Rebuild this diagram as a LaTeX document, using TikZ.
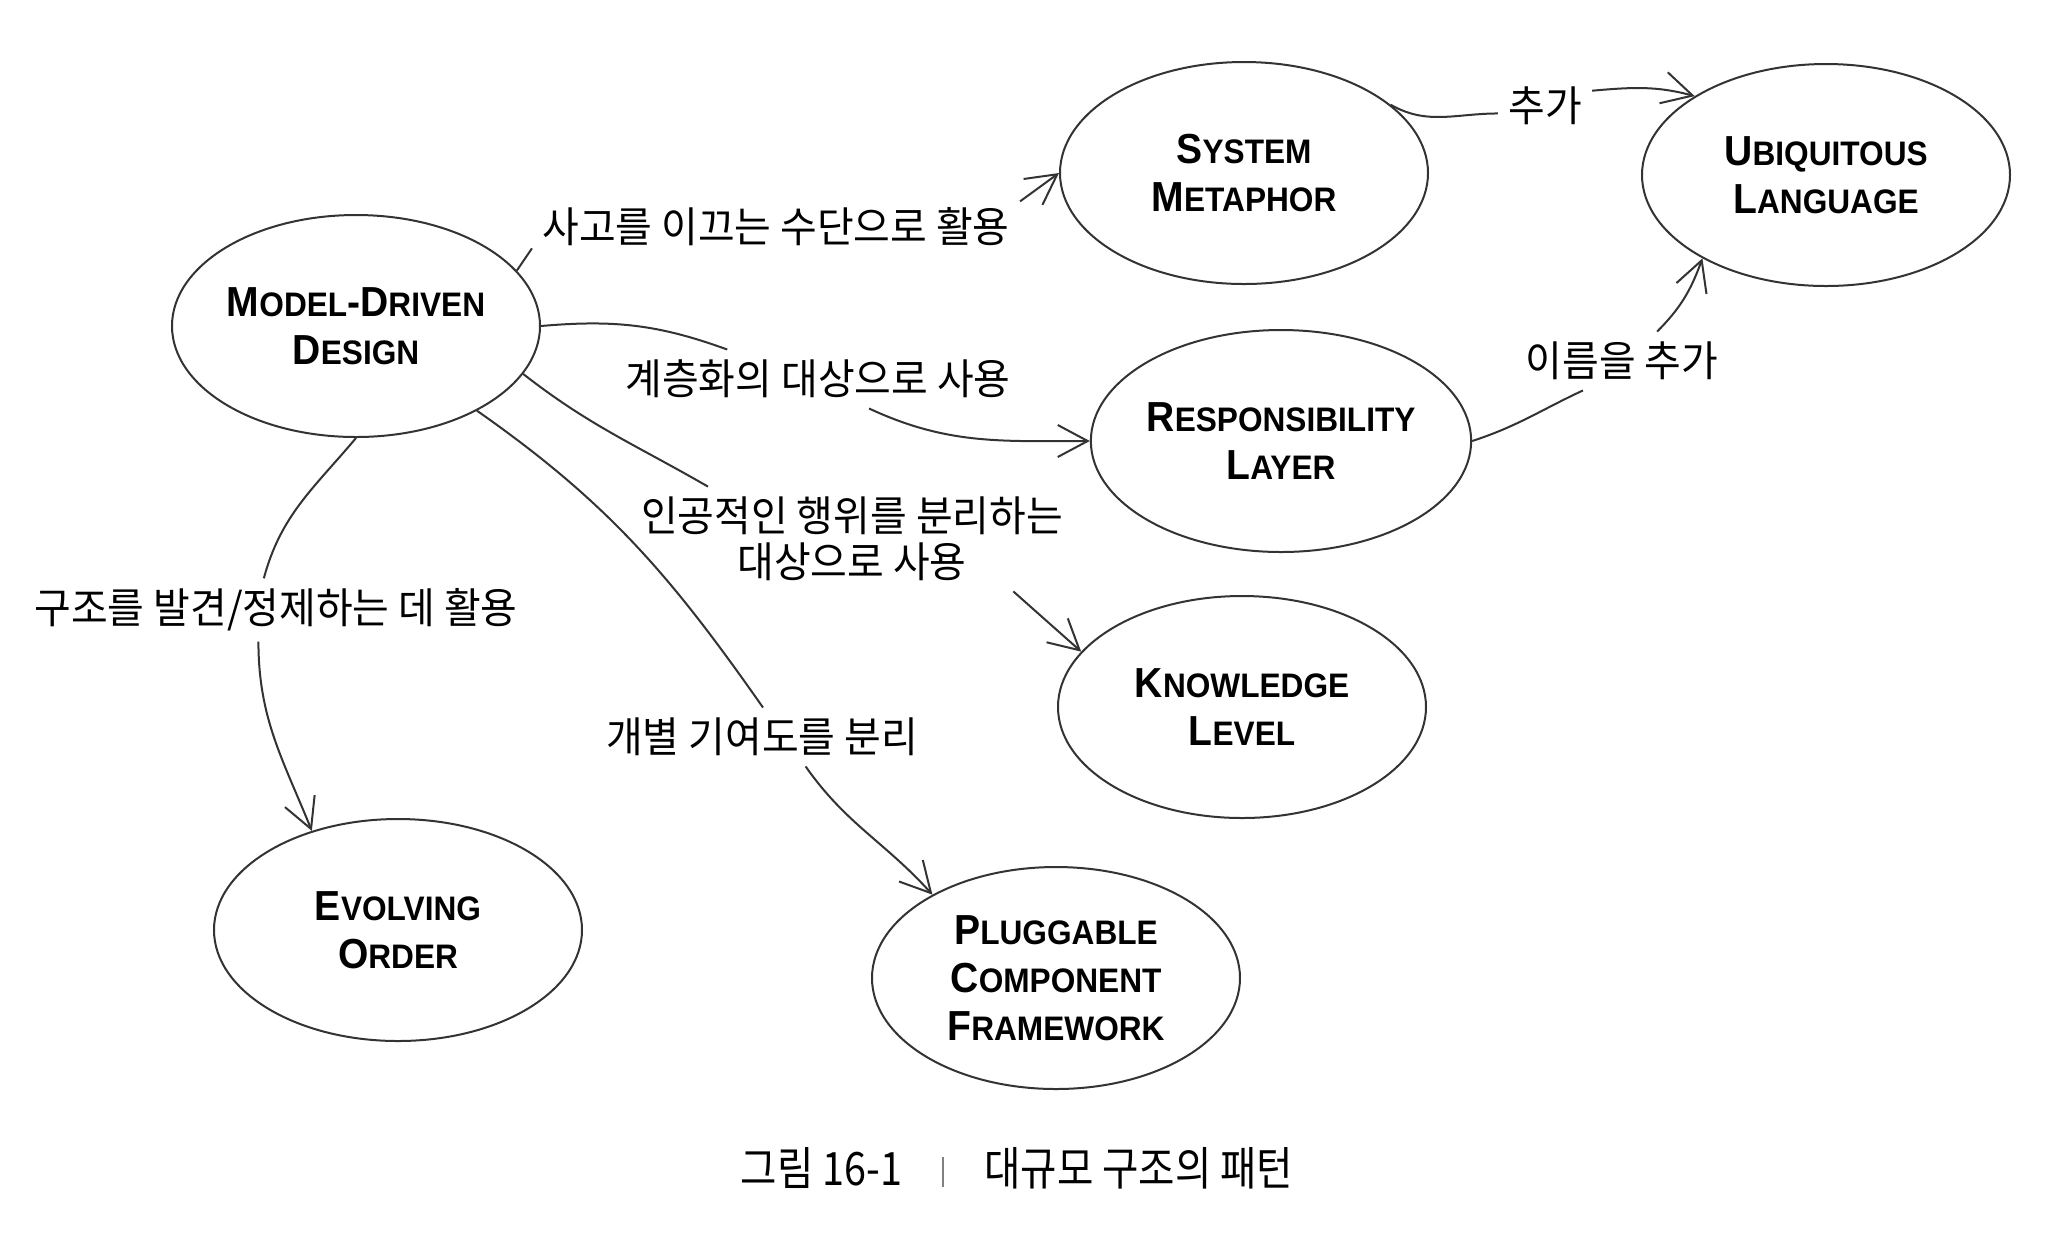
\documentclass[tikz,border=0pt]{standalone}
\usepackage{fontspec}
\newfontfamily\nodefont[FakeStretch=0.93]{Liberation Sans}
\newfontfamily\kfont[FakeStretch=0.95]{Noto Sans CJK KR}
\newfontfamily\capfont[FakeStretch=0.86]{Noto Sans CJK KR}
\usetikzlibrary{arrows.meta,shapes.geometric}
\newcommand\smc[1]{{\fontsize{17pt}{24pt}\selectfont #1}}
\begin{document}
\begin{tikzpicture}[x=0.5pt,y=-0.5pt,
  concept/.style={ellipse,draw=black!80,line width=1pt,inner sep=0pt,
    minimum width=184pt,minimum height=111pt,align=center,
    font=\nodefont\bfseries\fontsize{21pt}{24pt}\selectfont},
  lbl/.style={inner sep=5pt,align=center,font=\kfont\fontsize{21pt}{23pt}\selectfont},
  link/.style={draw=black!80,line width=1pt},
  arr/.style={link,-{Straight Barb[length=15pt,width=16pt]}}]
\path[fill=white,use as bounding box] (0,0) rectangle (2062,1250);

\node[concept] (mdd) at (356,326) {M\smc{ODEL}-D\smc{RIVEN}\\D\smc{ESIGN}};
\node[concept] (sm)  at (1244,173) {S\smc{YSTEM}\\M\smc{ETAPHOR}};
\node[concept] (ul)  at (1826,175) {U\smc{BIQUITOUS}\\L\smc{ANGUAGE}};
\node[concept] (rl)  at (1281,441) {R\smc{ESPONSIBILITY}\\L\smc{AYER}};
\node[concept] (kl)  at (1242,707) {K\smc{NOWLEDGE}\\L\smc{EVEL}};
\node[concept] (eo)  at (398,930) {E\smc{VOLVING}\\O\smc{RDER}};
\node[concept] (pcf) at (1056,978) {P\smc{LUGGABLE}\\C\smc{OMPONENT}\\F\smc{RAMEWORK}};

\node[lbl] (l1) at (776,227) {사고를 이끄는 수단으로 활용};
\node[lbl] (l2) at (818,379) {계층화의 대상으로 사용};
\node[lbl] (l3) at (852,539) {인공적인 행위를 분리하는\\대상으로 사용};
\node[lbl] (l4) at (276,610) {구조를 발견/정제하는 데 활용};
\node[lbl] (l5) at (762,737) {개별 기여도를 분리};
\node[lbl] (l6) at (1545,106) {추가};
\node[lbl] (l7) at (1622,361) {이름을 추가};

\node (cap) at (1017,1168) {\capfont\fontsize{23pt}{23pt}\selectfont 그림 16-1\hspace{20pt}\textcolor{black!50}{\rule[-1pt]{1.2pt}{15pt}}\hspace{20pt}대규모 구조의 패턴};

\draw[link] (mdd.19) -- (l1.185);
\draw[arr] (l1.6) -- (sm.180);
\draw[link] (mdd.0) to[out=5,in=160] (l2.162);
\draw[arr] (l2.330) to[out=-25,in=180] (rl.180);
\draw[link] (mdd.344) to[out=-38,in=150] (l3.160);
\draw[arr] (l3.342) -- (kl.161);
\draw[link] (mdd.325) to[out=-35,in=125] (l5.88);
\draw[arr] (l5.326) to[out=-55,in=132] (pcf.146);
\draw[link] (mdd.270) to[out=-130,in=75] (l4.111);
\draw[arr] (l4.241) to[out=-90,in=112] (eo.131);
\draw[link] (sm.25) to[out=-30,in=180] (l6.189);
\draw[arr] (l6.18) to[out=5,in=165] (ul.149);
\draw[link] (rl.0) to[out=18,in=205] (l7.217);
\draw[arr] (l7.40) to[out=45,in=250] (ul.214);
\end{tikzpicture}
\end{document}
